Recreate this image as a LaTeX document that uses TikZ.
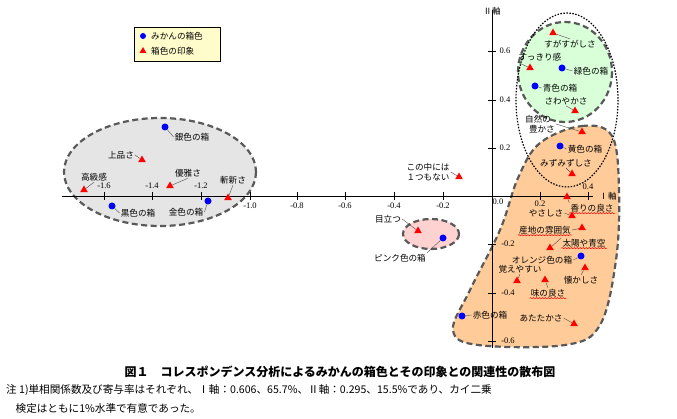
\documentclass[tikz,border=0pt]{standalone}
\usepackage{fontspec}
\setmainfont{Noto Sans CJK JP}
\newfontfamily\serf{Liberation Serif}
\usetikzlibrary{shapes.geometric,decorations.pathmorphing}
\begin{document}
\begin{tikzpicture}[x=1pt,y=-1pt,
  bpt/.style={circle,fill=blue,inner sep=0pt,minimum size=7pt},
  rpt/.style={regular polygon,regular polygon sides=3,fill=red,inner sep=0pt,minimum size=9pt},
  lab/.style={font=\fontsize{8.6}{9.6}\selectfont,inner sep=1pt},
  tk/.style={font=\serf\fontsize{8.5}{9}\selectfont,inner sep=0pt},
  lead/.style={draw=black!70,line width=0.4pt},
  wavy/.style={draw=red,decorate,decoration={snake,amplitude=0.6pt,segment length=3pt},line width=0.5pt},
  reg/.style={draw=black!65,line width=2.2pt,dash pattern=on 6pt off 3.5pt}]
\useasboundingbox (0,0) rectangle (677,419);
% regions
\draw[reg,fill=gray!20] (160,172) ellipse [x radius=96,y radius=54];
\draw[reg,fill=pink!70] (431,234) ellipse [x radius=28,y radius=15];
\draw[reg,fill=orange!40] plot[smooth cycle,tension=0.6] coordinates {(540,143) (582,126) (612,136) (619,190) (616,260) (600,325) (565,345) (478,345) (453,330) (470,290) (500,230) (518,178)};
\draw[reg,fill=green!15] (565,72) ellipse [x radius=47,y radius=50];
\draw[black,dash pattern=on 1.5pt off 1.5pt,line width=1.2pt] (567,100) ellipse [x radius=51,y radius=87];
% axes
\draw[line width=0.8pt] (62,196) -- (593,196);
\draw[line width=0.8pt] (492,10) -- (492,348);
\foreach \x in {104,152,201,250,297,345,394,443,540,588} \draw (\x,192) -- (\x,200);
\foreach \y in {51,100,148,244,293,341} \draw (488,\y) -- (496,\y);
\node[tk] (t1) at (104,186) {-1.6};
\node[tk] (t2) at (152,186) {-1.4};
\node[tk] (t3) at (201,186) {-1.2};
\node[tk] (t4) at (250,206) {-1.0};
\node[tk] (t5) at (297,206) {-0.8};
\node[tk] (t6) at (345,206) {-0.6};
\node[tk] (t7) at (394,206) {-0.4};
\node[tk] (t8) at (443,206) {-0.2};
\node[tk] (t9) at (498,202) {0.0};
\node[tk] (t10) at (540,204) {0.2};
\node[tk] (t11) at (588,187) {0.4};
\node[tk] (y1) at (505,51) {0.6};
\node[tk] (y2) at (505,100) {0.4};
\node[tk] (y3) at (505,148) {0.2};
\node[tk] (y4) at (508,244) {-0.2};
\node[tk] (y5) at (508,293) {-0.4};
\node[tk] (y6) at (508,341) {-0.6};
\node[lab] (ax1) at (608,196) {Ⅰ軸};
\node[lab] (ax2) at (492,11) {Ⅱ軸};
% legend
\node[draw,fill=yellow!20,line width=0.6pt,minimum width=86pt,minimum height=34pt] (leg) at (177,44) {};
\node[bpt,minimum size=6pt] (lb) at (143,36) {};
\node[lab,right] (lbt) at (150,36) {みかんの箱色};
\node[rpt,minimum size=8pt] (lr) at (143,51) {};
\node[lab,right] (lrt) at (150,51) {箱色の印象};
% grey group
\node[bpt] (silver) at (165,127) {}; \node[lab] (silverL) at (192,137) {銀色の箱};
\node[rpt] (joh) at (142,160) {}; \node[lab] (johL) at (121,155) {上品さ};
\node[rpt] (kok) at (84,190) {}; \node[lab] (kokL) at (94,177) {高級感};
\node[rpt] (yug) at (170,186) {}; \node[lab] (yugL) at (188,173) {優雅さ};
\node[rpt] (zan) at (228,198) {}; \node[lab] (zanL) at (233,180) {斬新さ};
\node[bpt] (black) at (112,206) {}; \node[lab] (blackL) at (138,213) {黒色の箱};
\node[bpt] (gold) at (208,201) {}; \node[lab] (goldL) at (186,212) {金色の箱};
\draw[lead] (silverL.west) -- (silver); \draw[lead] (johL.east) -- (joh);
\draw[lead] (kokL.south) -- (kok); \draw[lead] (yugL.south) -- (yug);
\draw[lead] (zanL.south) -- (zan); \draw[lead] (blackL.west) -- (black);
\draw[lead] (goldL.east) -- (gold);
% pink
\node[rpt] (med) at (418,231) {}; \node[lab] (medL) at (388,219) {目立つ};
\node[bpt] (pink) at (443,238) {}; \node[lab] (pinkL) at (400,258) {ピンク色の箱};
\draw[lead] (medL.east) -- (med); \draw[lead] (pinkL.north east) -- (pink);
\node[lab,align=center] (nonL) at (428,172) {この中には\\１つもない};
\node[rpt] (non) at (459,177) {};
\draw[lead] (nonL.east) -- (non);
% green/dotted
\node[rpt] (sug) at (553,33) {}; \node[lab] (sugL) at (570,44) {すがすがしさ};
\node[rpt] (suk) at (530,68) {}; \node[lab] (sukL) at (540,57) {すっきり感};
\node[bpt] (green) at (562,68) {}; \node[lab] (greenL) at (591,71) {緑色の箱};
\node[bpt] (blue) at (535,86) {}; \node[lab] (blueL) at (560,88) {青色の箱};
\node[lab] (sawL) at (566,101) {さわやかさ}; \node[rpt] (saw) at (575,111) {};
\node[lab,align=left] (shiL) at (540,124) {自然の\\\ \ 豊かさ}; \node[rpt] (shi) at (582,132) {};
\node[bpt] (yellow) at (560,146) {}; \node[lab] (yellowL) at (585,149) {黄色の箱};
\node[lab] (mizL) at (566,163) {みずみずしさ}; \node[rpt] (miz) at (572,174) {};
\draw[lead] (sugL.north) -- (sug); \draw[lead] (sukL.south west) -- (suk);
\draw[lead] (greenL.west) -- (green); \draw[lead] (blueL.west) -- (blue);
\draw[lead] (sawL.south) -- (saw); \draw[lead] (shiL.east) -- (shi);
\draw[lead] (yellowL.west) -- (yellow); \draw[lead] (mizL.south) -- (miz);
% orange
\node[rpt] (kao) at (567,197) {}; \node[lab] (kaoL) at (592,208) {香りの良さ};
\node[lab] (yasL) at (546,213) {やさしさ}; \node[rpt] (yas) at (572,216) {};
\node[lab] (sanL) at (545,230) {産地の雰囲気}; \node[rpt] (san) at (582,228) {};
\node[rpt] (tai) at (550,248) {}; \node[lab] (taiL) at (584,243) {太陽や青空};
\node[lab] (oraL) at (542,260) {オレンジ色の箱}; \node[bpt] (orange) at (581,256) {};
\node[rpt] (nat) at (585,268) {}; \node[lab] (natL) at (581,280) {懐かしさ};
\node[lab] (oboL) at (520,269) {覚えやすい}; \node[rpt] (obo) at (517,281) {};
\node[rpt] (aji) at (545,280) {}; \node[lab] (ajiL) at (548,293) {味の良さ};
\node[bpt] (red) at (462,316) {}; \node[lab] (redL) at (490,315) {赤色の箱};
\node[lab] (ataL) at (541,318) {あたたかさ}; \node[rpt] (ata) at (574,324) {};
\draw[lead] (kaoL.north west) -- (kao); \draw[lead] (yasL.east) -- (yas);
\draw[lead] (sanL.east) -- (san); \draw[lead] (taiL.north west) -- (tai);
\draw[lead] (oraL.east) -- (orange); \draw[lead] (natL.north) -- (nat);
\draw[lead] (oboL.south) -- (obo); \draw[lead] (ajiL.north) -- (aji);
\draw[lead] (redL.west) -- (red); \draw[lead] (ataL.east) -- (ata);
\foreach \n in {kaoL,sanL,taiL,ajiL} \draw[wavy] (\n.south west) -- (\n.south east);
% caption
\node[font=\bfseries\fontsize{12}{13}\selectfont] (cap) at (340,372) {図１　コレスポンデンス分析によるみかんの箱色とその印象との関連性の散布図};
\node[font=\fontsize{10.6}{12}\selectfont,anchor=west,inner sep=0pt] (n1) at (6,390) {注 1)単相関係数及び寄与率はそれぞれ、Ⅰ軸：0.606、65.7\%、Ⅱ軸：0.295、15.5\%であり、カイ二乗};
\node[font=\fontsize{10.6}{12}\selectfont,anchor=west,inner sep=0pt] (n2) at (6,408) {\ \ \ \ 検定はともに1\%水準で有意であった。};
\end{tikzpicture}
\end{document}
